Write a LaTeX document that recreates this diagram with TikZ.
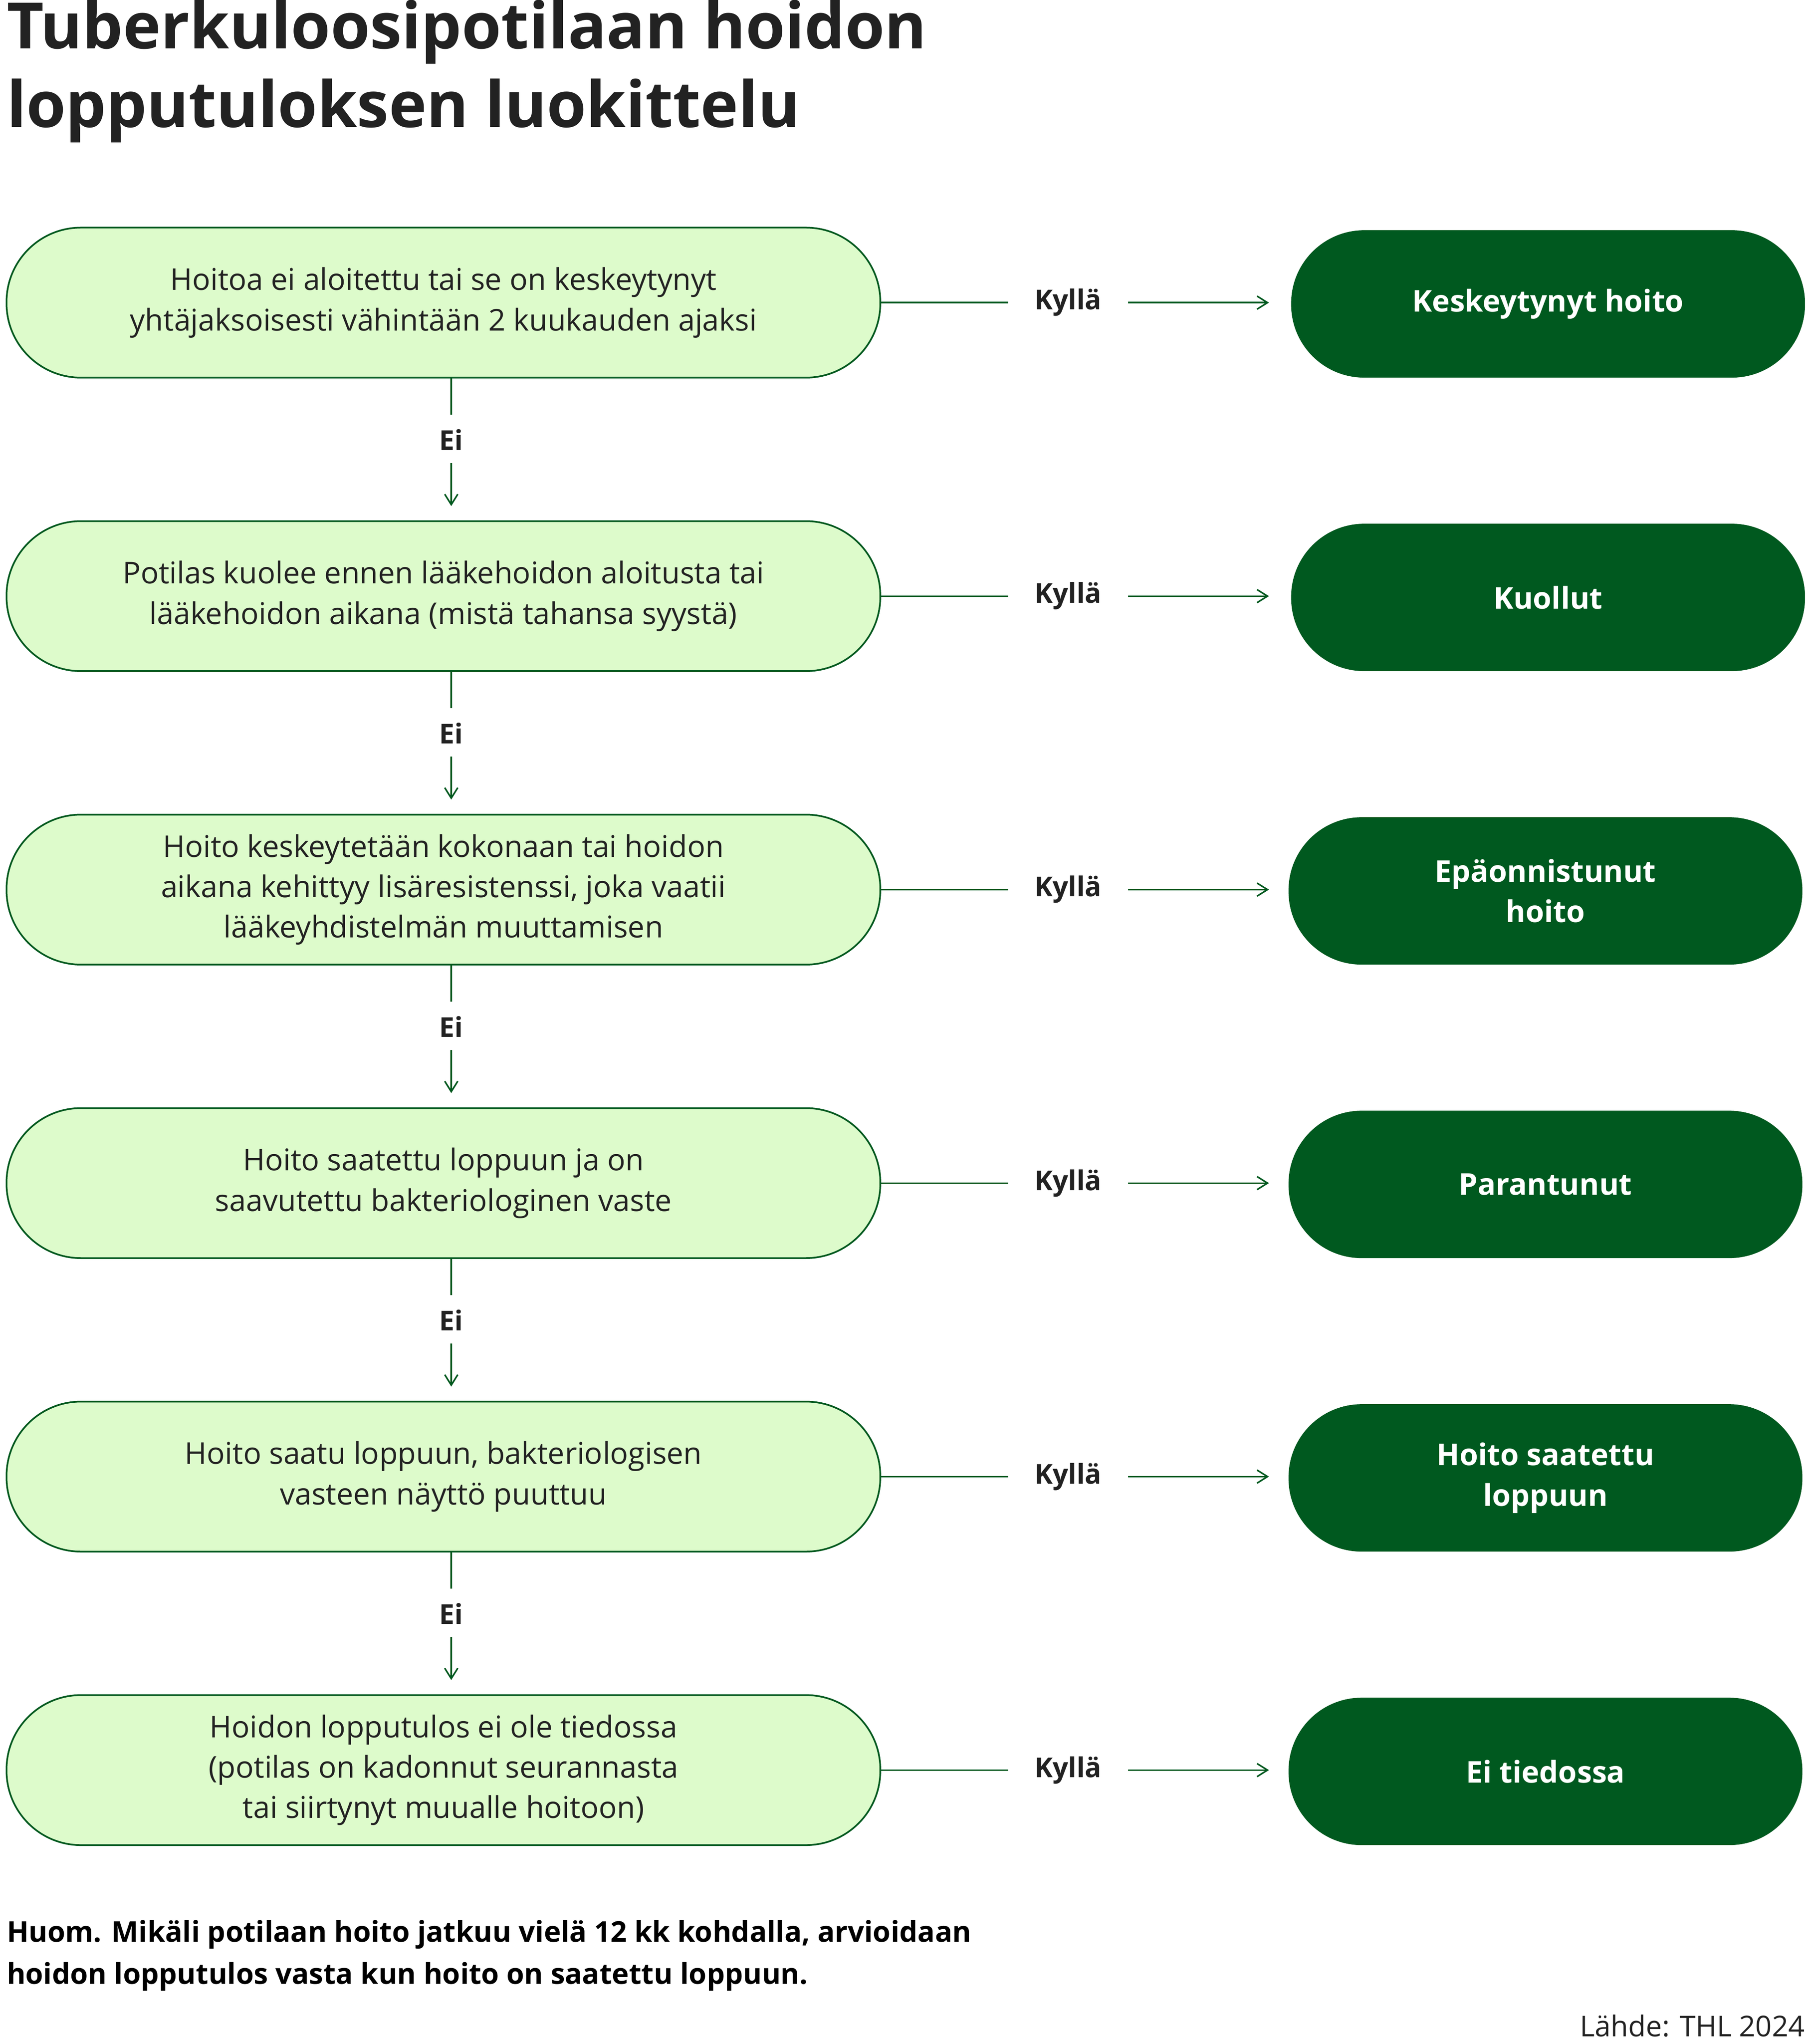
\documentclass[tikz,border=0pt]{standalone}
\usepackage{fontspec}
\setmainfont{Open Sans}
\usetikzlibrary{arrows.meta}
\definecolor{dg}{HTML}{00591F}
\definecolor{lg}{HTML}{DDFBCB}
\definecolor{tx}{HTML}{222222}
\begin{document}
\begin{tikzpicture}[x=1pt,y=-1pt,
 q/.style={draw=dg,line width=1.3pt,fill=lg,rounded corners=57pt,minimum width=670pt,minimum height=115pt,align=center,text=tx,font=\fontsize{23}{31}\selectfont},
 r/.style={fill=dg,rounded corners=56pt,minimum width=394pt,minimum height=113pt,align=center,text=white,font=\fontsize{23}{31}\selectfont\bfseries},
 lab/.style={text=tx,font=\fontsize{21}{26}\selectfont\bfseries,inner xsep=14pt,inner ysep=8pt},
 ln/.style={dg,line width=1.2pt},
 ar/.style={dg,line width=1.2pt,-{Straight Barb[length=8pt,width=10pt]}}]
\useasboundingbox (0,0) rectangle (1387,1567);
\node[anchor=north west,text=tx,align=left,font=\fontsize{49}{60}\selectfont\bfseries,inner sep=0pt] (title) at (5,0) {Tuberkuloosipotilaan hoidon\\lopputuloksen luokittelu};
\foreach \i/\y/\t/\o/\rx in {
 1/232/{Hoitoa ei aloitettu tai se on keskeytynyt\\yhtäjaksoisesti vähintään 2 kuukauden ajaksi}/{Keskeytynyt hoito}/1187,
 2/457/{Potilas kuolee ennen lääkehoidon aloitusta tai\\lääkehoidon aikana (mistä tahansa syystä)}/{Kuollut}/1187,
 3/682/{Hoito keskeytetään kokonaan tai hoidon\\aikana kehittyy lisäresistenssi, joka vaatii\\lääkeyhdistelmän muuttamisen}/{Epäonnistunut\\hoito}/1185,
 4/907/{Hoito saatettu loppuun ja on\\saavutettu bakteriologinen vaste}/{Parantunut}/1185,
 5/1132/{Hoito saatu loppuun, bakteriologisen\\vasteen näyttö puuttuu}/{Hoito saatettu\\loppuun}/1185,
 6/1357/{Hoidon lopputulos ei ole tiedossa\\(potilas on kadonnut seurannasta\\tai siirtynyt muualle hoitoon)}/{Ei tiedossa}/1185}{
 \node[q] (q\i) at (340,\y) {\t};
 \node[r] (r\i) at (\rx,\y+1) {\o};
 \node[lab] (k\i) at (819,\y) {Kyllä};
 \coordinate (ka\i) at (865,\y);
 \coordinate (kb\i) at (973,\y);
 \draw[ln] (q\i.east) -- (773,\y);
 \draw[ar] (ka\i) -- (kb\i);
}
\foreach \i/\j/\y in {1/2/337,2/3/562,3/4/787,4/5/1012,5/6/1237}{
 \node[lab] (ei\i) at (346,\y) {Ei};
 \coordinate (s\i) at (346,\y-47);
 \coordinate (t\i) at (346,\y+51);
 \draw[ln] (s\i) -- (346,\y-19);
 \draw[ar] (346,\y+18) -- (t\i);
}
\node[anchor=north west,align=left,text=black,inner sep=0pt,font=\fontsize{22}{32}\selectfont\bfseries] (note) at (5,1472) {Huom. Mikäli potilaan hoito jatkuu vielä 12 kk kohdalla, arvioidaan\\hoidon lopputulos vasta kun hoito on saatettu loppuun.};
\node[anchor=east,text=tx,inner sep=0pt,font=\fontsize{22}{26}\selectfont] (src) at (1384,1553) {Lähde: THL 2024};
\end{tikzpicture}
\end{document}
